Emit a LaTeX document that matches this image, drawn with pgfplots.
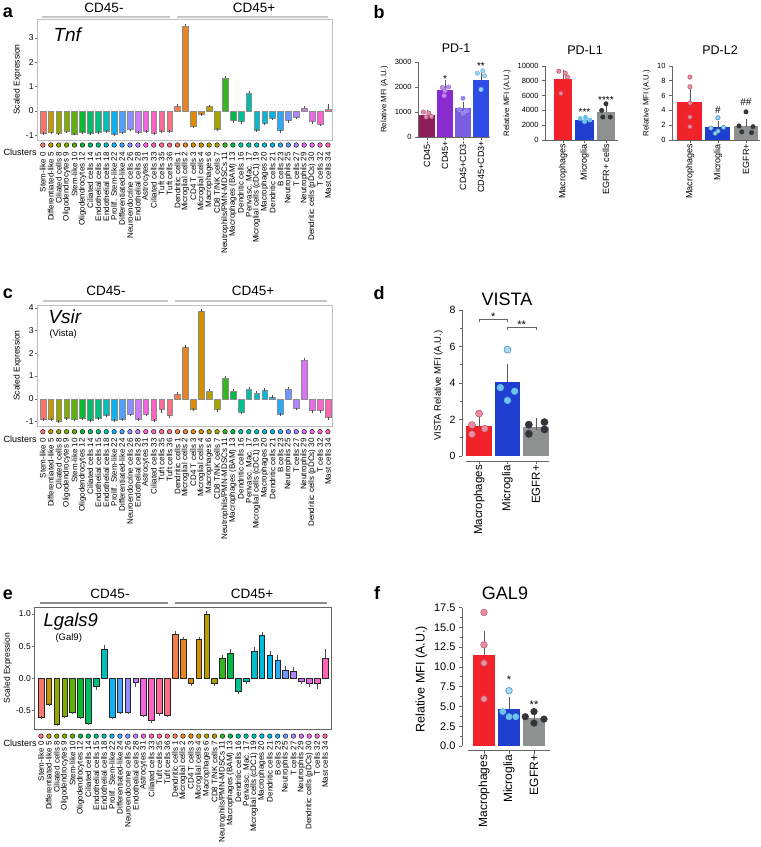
\documentclass[border=0pt]{standalone}
\usepackage{pgfplots}
\pgfplotsset{compat=1.18}
\usepackage{fontspec}
\setmainfont{Liberation Sans}
\newcommand\fs[1]{\fontsize{#1}{#1}\selectfont}

\definecolor{A0}{HTML}{F8766D}
\definecolor{A1}{HTML}{DE8C00}
\definecolor{A2}{HTML}{B79F00}
\definecolor{A3}{HTML}{7CAE00}
\definecolor{A4}{HTML}{00BA38}
\definecolor{A5}{HTML}{00C08B}
\definecolor{A6}{HTML}{00BFC4}
\definecolor{A7}{HTML}{00B4F0}
\definecolor{A8}{HTML}{619CFF}
\definecolor{A9}{HTML}{C77CFF}
\definecolor{A10}{HTML}{F564E3}
\definecolor{A11}{HTML}{FF64B0}
\colorlet{k0}{A0}
\colorlet{k1}{A0!68!A1}
\colorlet{k2}{A0!35!A1}
\colorlet{k3}{A0!3!A1}
\colorlet{k4}{A1!70!A2}
\colorlet{k5}{A1!38!A2}
\colorlet{k6}{A1!5!A2}
\colorlet{k7}{A2!73!A3}
\colorlet{k8}{A2!41!A3}
\colorlet{k9}{A2!8!A3}
\colorlet{k10}{A3!76!A4}
\colorlet{k11}{A3!43!A4}
\colorlet{k12}{A3!11!A4}
\colorlet{k13}{A4!78!A5}
\colorlet{k14}{A4!46!A5}
\colorlet{k15}{A4!14!A5}
\colorlet{k16}{A5!81!A6}
\colorlet{k17}{A5!49!A6}
\colorlet{k18}{A5!16!A6}
\colorlet{k19}{A6!84!A7}
\colorlet{k20}{A6!51!A7}
\colorlet{k21}{A6!19!A7}
\colorlet{k22}{A7!86!A8}
\colorlet{k23}{A7!54!A8}
\colorlet{k24}{A7!22!A8}
\colorlet{k25}{A8!89!A9}
\colorlet{k26}{A8!57!A9}
\colorlet{k27}{A8!24!A9}
\colorlet{k28}{A9!92!A10}
\colorlet{k29}{A9!59!A10}
\colorlet{k30}{A9!27!A10}
\colorlet{k31}{A10!95!A11}
\colorlet{k32}{A10!62!A11}
\colorlet{k33}{A10!30!A11}
\colorlet{k34}{A11!97!A0}
\colorlet{k35}{A11!65!A0}
\colorlet{k36}{A11!32!A0}

\definecolor{macred}{HTML}{F2222A}
\definecolor{micblue}{HTML}{1E3FCF}
\definecolor{egfrgray}{HTML}{8E918F}
\definecolor{macdot}{HTML}{E8909C}
\definecolor{macedge}{HTML}{B8506E}
\definecolor{micdot}{HTML}{6EC3EC}
\definecolor{micedge}{HTML}{3C84B8}
\definecolor{egfrdot}{HTML}{34343A}
\definecolor{pdA}{HTML}{8C1E5A}
\definecolor{pdB}{HTML}{8A2BD0}
\definecolor{pdC}{HTML}{7A5DE0}
\definecolor{pdD}{HTML}{2E4DE6}
\definecolor{pdAd}{HTML}{E58AA5}
\definecolor{pdBd}{HTML}{B392E8}
\definecolor{pdCd}{HTML}{8F86EA}
\definecolor{pdDd}{HTML}{86DDEB}

\pgfplotsset{
  cllabels/.style={xticklabels={{Stem-like 0},{Differentiated-like 5},{Ciliated cells 8},{Oligodendrocytes 9},{Stem-like 10},{Oligodendrocytes 12},{Ciliated cells 14},{Endothelial cells 15},{Endothelial cells 18},{Prolif. Stem-like 22},{Differentiated-like 24},{Neuroendocrine cells 26},{Endothelial cells 28},{Astrocytes 31},{Ciliated cells 33},{Tuft cells 35},{Tuft cells 36},{Dendritic cells 1},{Microglial cells 2},{CD4 T cells 3},{Microglial cells 4},{Macrophages 6},{CD8 T/NK cells 7},{Neutrophils/PMN-MDSCs 11},{Macrophages (BAM) 13},{Dendritic cells 16},{Perivasc. Mac. 17},{Microglial cells (cDC1) 19},{Macrophages 20},{Dendritic cells 21},{B cells 23},{Neutrophils 25},{T cells 27},{Neutrophils 29},{Dendritic cells (pDCs) 30},{T cells 32},{Mast cells 34}}},
  clax/.style={scale only axis, clip=false, anchor=south west,
    xmin=-0.65, xmax=36.6, xtick={0,...,36}, cllabels,
    major x tick style={draw=none}, xtick pos=bottom, ytick pos=left,
    xticklabel style={rotate=90, anchor=east, inner sep=0pt, font=\fs{8}},
    xticklabel shift=9pt,
    axis line style={black!25, line width=0.8pt},
    ytick style={black!55, line width=0.5pt},
    tick align=outside, major tick length=3pt,
    yticklabel style={font=\fs{8.5}, inner sep=1pt},
    ylabel={Scaled Expression}, ylabel style={font=\fs{8.5}},
    /pgf/number format/assume math mode=true},
  cbarline/.style={draw=black!45, line width=0.35pt},
  cbar/.style={ybar, bar width=0.72, bar shift=0pt, cbarline,
    error bars/y explicit, error bars/error mark=-,
    error bars/error bar style={black!70, line width=0.4pt},
    error bars/error mark options={black!70, line width=0.4pt, mark size=1.3pt}},
  cdot/.style={only marks, mark=*, mark size=2.3pt, draw=none},
  gp/.style={scale only axis, clip=false, anchor=south west,
    axis x line*=bottom, axis y line*=left,
    axis line style={black!60, line width=0.7pt},
    every tick/.style={black!60, line width=0.7pt},
    tick align=outside, major tick length=3pt, minor tick length=2pt,
    xticklabel style={rotate=90, anchor=east, inner sep=1pt},
    scaled y ticks=false, xtick={0,1,2},
    /pgf/number format/1000 sep={},
    /pgf/number format/assume math mode=true},
  sbar/.style={ybar, bar shift=0pt, draw=none,
    error bars/y dir=plus, error bars/y explicit, error bars/error mark=-,
    error bars/error bar style={black!65, line width=0.7pt},
    error bars/error mark options={black!65, line width=0.7pt, mark size=#1}},
  sbar/.default=4pt,
  pdot/.style={only marks, mark=*, line width=0.5pt},
}

\newcommand\B[4]{%
  \ifdim #3pt<0pt
    \addplot[cbar, fill=k#2, error bars/y dir=minus] coordinates {(#1,#3) +- (0,#4)};
  \else
    \addplot[cbar, fill=k#2, error bars/y dir=plus] coordinates {(#1,#3) +- (0,#4)};
  \fi
  \addplot[cdot, fill=k#2] coordinates {(#1,\doty)};%
}

\begin{document}
\begin{tikzpicture}
\useasboundingbox (0,0) rectangle (761pt,-847pt);

% ================= panel a =================
\node[font=\bfseries\fs{18}] at (8pt,-13pt) {a};
\draw[black!22, line width=2pt] (42pt,-17pt) -- (170pt,-17pt);
\draw[black!22, line width=2pt] (177pt,-17pt) -- (328pt,-17pt);
\node[font=\fs{13.5}] at (104pt,-8pt) {CD45-};
\node[font=\fs{13.5}] at (254pt,-8pt) {CD45+};
\def\doty{-1.405}
\begin{axis}[clax, at={(37.7pt,-140pt)}, width=295pt, height=121pt,
  ymin=-1.2, ymax=3.77, ytick={-1,0,1,2,3}]
\B{0}{0}{-0.91}{0.02}
\B{1}{5}{-0.89}{0.02}
\B{2}{8}{-0.93}{0.02}
\B{3}{9}{-0.85}{0.02}
\B{4}{10}{-0.94}{0.02}
\B{5}{12}{-0.88}{0.02}
\B{6}{14}{-0.91}{0.02}
\B{7}{15}{-0.88}{0.02}
\B{8}{18}{-0.83}{0.02}
\B{9}{22}{-0.95}{0.02}
\B{10}{24}{-0.89}{0.02}
\B{11}{26}{-0.77}{0.02}
\B{12}{28}{-0.88}{0.02}
\B{13}{31}{-0.82}{0.02}
\B{14}{33}{-0.91}{0.02}
\B{15}{35}{-0.84}{0.02}
\B{16}{36}{-0.84}{0.02}
\B{17}{1}{0.18}{0.03}
\B{18}{2}{3.48}{0.05}
\B{19}{3}{-0.64}{0.03}
\B{20}{4}{-0.14}{0.02}
\B{21}{6}{0.17}{0.03}
\B{22}{7}{-0.75}{0.03}
\B{23}{11}{1.34}{0.05}
\B{24}{13}{-0.40}{0.03}
\B{25}{16}{-0.44}{0.03}
\B{26}{17}{0.72}{0.05}
\B{27}{19}{-0.78}{0.03}
\B{28}{20}{-0.51}{0.03}
\B{29}{21}{-0.30}{0.03}
\B{30}{23}{-0.81}{0.03}
\B{31}{25}{-0.40}{0.03}
\B{32}{27}{-0.26}{0.03}
\B{33}{29}{0.11}{0.04}
\B{34}{30}{-0.44}{0.04}
\B{35}{32}{-0.53}{0.05}
\B{36}{34}{0.07}{0.14}
\end{axis}
\node[font=\itshape\fs{19}, anchor=west] at (50pt,-35pt) {Tnf};
\node[font=\fs{9}, anchor=west] at (0pt,-152pt) {Clusters};

% ================= panel c =================
\node[font=\bfseries\fs{18}] at (8pt,-294pt) {c};
\draw[black!22, line width=2pt] (43pt,-301pt) -- (168pt,-301pt);
\draw[black!22, line width=2pt] (175pt,-301pt) -- (327pt,-301pt);
\node[font=\fs{13.5}] at (106pt,-291pt) {CD45-};
\node[font=\fs{13.5}] at (253pt,-291pt) {CD45+};
\def\doty{-1.45}
\begin{axis}[clax, at={(37.7pt,-426pt)}, width=295pt, height=121pt,
  ymin=-1.2, ymax=4.13, ytick={-1,0,1,2,3,4}]
\B{0}{0}{-0.89}{0.02}
\B{1}{5}{-0.89}{0.02}
\B{2}{8}{-0.97}{0.02}
\B{3}{9}{-0.85}{0.02}
\B{4}{10}{-0.92}{0.02}
\B{5}{12}{-0.85}{0.02}
\B{6}{14}{-0.95}{0.02}
\B{7}{15}{-0.85}{0.02}
\B{8}{18}{-0.73}{0.02}
\B{9}{22}{-0.95}{0.02}
\B{10}{24}{-0.89}{0.02}
\B{11}{26}{-0.70}{0.02}
\B{12}{28}{-0.89}{0.02}
\B{13}{31}{-0.70}{0.02}
\B{14}{33}{-0.95}{0.02}
\B{15}{35}{-0.47}{0.12}
\B{16}{36}{-0.73}{0.07}
\B{17}{1}{0.20}{0.03}
\B{18}{2}{2.27}{0.04}
\B{19}{3}{-0.44}{0.03}
\B{20}{4}{3.84}{0.04}
\B{21}{6}{0.35}{0.03}
\B{22}{7}{-0.48}{0.03}
\B{23}{11}{0.91}{0.04}
\B{24}{13}{0.35}{0.03}
\B{25}{16}{-0.60}{0.03}
\B{26}{17}{0.44}{0.04}
\B{27}{19}{0.25}{0.04}
\B{28}{20}{0.37}{0.03}
\B{29}{21}{0.06}{0.03}
\B{30}{23}{-0.66}{0.03}
\B{31}{25}{0.44}{0.04}
\B{32}{27}{-0.42}{0.03}
\B{33}{29}{1.71}{0.05}
\B{34}{30}{-0.51}{0.04}
\B{35}{32}{-0.51}{0.05}
\B{36}{34}{-0.82}{0.04}
\end{axis}
\node[font=\itshape\fs{19}, anchor=west] at (45pt,-317pt) {Vsir};
\node[font=\fs{9.5}, anchor=west] at (46pt,-334pt) {(Vista)};
\node[font=\fs{9}, anchor=west] at (0pt,-439pt) {Clusters};

% ================= panel e =================
\node[font=\bfseries\fs{18}] at (8pt,-595pt) {e};
\draw[black!45, line width=2pt] (40pt,-603pt) -- (168pt,-603pt);
\draw[black!45, line width=2pt] (175pt,-603pt) -- (327pt,-603pt);
\node[font=\fs{13.5}] at (110pt,-594pt) {CD45-};
\node[font=\fs{13.5}] at (252pt,-594pt) {CD45+};
\def\doty{-0.9}
\pgfplotsset{cbarline/.style={draw=black!85, line width=0.5pt}}
\begin{axis}[clax, at={(35pt,-729pt)}, width=296pt, height=122pt,
  xmin=-0.76, xmax=36.76,
  axis line style={black!60, line width=1pt},
  ymin=-0.79, ymax=1.11, ytick={-0.5,0,0.5,1},
  yticklabel style={/pgf/number format/.cd, fixed, fixed zerofill, precision=1}]
\B{0}{0}{-0.60}{0.01}
\B{1}{5}{-0.40}{0.01}
\B{2}{8}{-0.71}{0.01}
\B{3}{9}{-0.59}{0.01}
\B{4}{10}{-0.53}{0.01}
\B{5}{12}{-0.61}{0.01}
\B{6}{14}{-0.70}{0.01}
\B{7}{15}{-0.13}{0.03}
\B{8}{18}{0.45}{0.05}
\B{9}{22}{-0.61}{0.01}
\B{10}{24}{-0.53}{0.01}
\B{11}{26}{-0.53}{0.01}
\B{12}{28}{-0.06}{0.05}
\B{13}{31}{-0.58}{0.01}
\B{14}{33}{-0.65}{0.02}
\B{15}{35}{-0.55}{0.01}
\B{16}{36}{-0.58}{0.01}
\B{17}{1}{0.69}{0.02}
\B{18}{2}{0.61}{0.01}
\B{19}{3}{-0.08}{0.02}
\B{20}{4}{0.61}{0.02}
\B{21}{6}{1.00}{0.02}
\B{22}{7}{-0.07}{0.03}
\B{23}{11}{0.31}{0.04}
\B{24}{13}{0.39}{0.04}
\B{25}{16}{-0.20}{0.02}
\B{26}{17}{-0.04}{0.03}
\B{27}{19}{0.42}{0.04}
\B{28}{20}{0.67}{0.03}
\B{29}{21}{0.36}{0.04}
\B{30}{23}{0.28}{0.06}
\B{31}{25}{0.13}{0.04}
\B{32}{27}{0.11}{0.05}
\B{33}{29}{-0.04}{0.03}
\B{34}{30}{-0.07}{0.05}
\B{35}{32}{-0.07}{0.08}
\B{36}{34}{0.31}{0.12}
\end{axis}
\node[font=\itshape\fs{18.5}, anchor=west] at (40pt,-622pt) {Lgals9};
\node[font=\fs{9.5}, anchor=west] at (52pt,-638pt) {(Gal9)};
\node[font=\fs{9}, anchor=west] at (0pt,-743pt) {Clusters};

% ================= panel b =================
\node[font=\bfseries\fs{18}] at (379pt,-12pt) {b};
\node[font=\fs{12.5}] at (456pt,-48pt) {PD-1};
\node[font=\fs{12.5}] at (585pt,-50pt) {PD-L1};
\node[font=\fs{12.5}] at (720pt,-50pt) {PD-L2};
\begin{axis}[gp, at={(418pt,-137pt)}, width=72pt, height=75pt,
  xmin=-0.5, xmax=3.5, ymin=0, ymax=3000, ytick={0,1000,2000,3000},
  xtick={0,1,2,3}, xticklabels={CD45-,CD45+,CD45+CD3-,CD45+CD3+},
  xticklabel style={font=\fs{9}}, yticklabel style={font=\fs{7.5}},
  ylabel={Relative MFI (A.U.)}, ylabel style={font=\fs{7.8}}]
\addplot[sbar=3pt, bar width=0.88, fill=pdA] coordinates {(0,900) +- (0,60)};
\addplot[sbar=3pt, bar width=0.88, fill=pdB] coordinates {(1,1870) +- (0,280)};
\addplot[sbar=3pt, bar width=0.88, fill=pdC] coordinates {(2,1160) +- (0,120)};
\addplot[sbar=3pt, bar width=0.88, fill=pdD] coordinates {(3,2300) +- (0,200)};
\addplot[pdot, mark size=2.2pt, mark options={fill=pdAd, draw=pdA!70}] coordinates {(-0.2,1000) (0.1,950) (0.25,820) (-0.05,800)};
\addplot[pdot, mark size=2.2pt, mark options={fill=pdBd, draw=pdB!70}] coordinates {(0.85,1980) (1.2,2000) (1,1850) (0.95,1650)};
\addplot[pdot, mark size=2.2pt, mark options={fill=pdCd, draw=pdC!70}] coordinates {(2,1550) (1.8,1100) (2.2,1050) (2,950)};
\addplot[pdot, mark size=2.2pt, mark options={fill=pdDd, draw=pdD!50}] coordinates {(3.1,2650) (2.8,2550) (3.2,2450) (3,1900)};
\node[anchor=base, font=\fs{10}] at (axis cs:1,2200) {*};
\node[anchor=base, font=\fs{10}] at (axis cs:3,2720) {**};
\end{axis}

\begin{axis}[gp, at={(545pt,-140pt)}, width=73pt, height=74pt,
  xmin=-0.84, xmax=2.56, ymin=0, ymax=10000, ytick={0,2000,4000,6000,8000,10000},
  xticklabels={Macrophages,Microglia,EGFR+ cells},
  xticklabel style={font=\fs{9}}, yticklabel style={font=\fs{7.5}},
  ylabel={Relative MFI (A.U.)}, ylabel style={font=\fs{7.8}}]
\addplot[sbar=3.5pt, bar width=0.88, fill=macred] coordinates {(0,8300) +- (0,700)};
\addplot[sbar=3.5pt, bar width=0.88, fill=micblue] coordinates {(1,2650) +- (0,200)};
\addplot[sbar=3.5pt, bar width=0.88, fill=egfrgray] coordinates {(2,3800) +- (0,450)};
\addplot[pdot, mark size=2.2pt, mark options={fill=macdot, draw=macedge}] coordinates {(-0.2,9300) (0.1,9050) (0.2,8500) (-0.1,6300)};
\addplot[pdot, mark size=2.2pt, mark options={fill=micdot, draw=micdot}] coordinates {(0.8,2900) (1.05,3050) (1.25,2700) (1,2500)};
\addplot[pdot, mark size=2.2pt, mark options={fill=egfrdot, draw=egfrdot}] coordinates {(2,4900) (1.8,4000) (2.2,3100) (1.85,3100)};
\node[anchor=base, font=\fs{10}] at (axis cs:1,3250) {***};
\node[anchor=base, font=\fs{10}] at (axis cs:2,5000) {****};
\end{axis}

\begin{axis}[gp, at={(672pt,-140pt)}, width=88pt, height=74pt,
  xmin=-0.64, xmax=2.5, ymin=0, ymax=10, ytick={0,2,4,6,8,10},
  xticklabels={Macrophages,Microglia,EGFR+},
  xticklabel style={font=\fs{9}}, yticklabel style={font=\fs{7.5}},
  ylabel={Relative MFI (A.U.)}, ylabel style={font=\fs{7.8}}]
\addplot[sbar=4pt, bar width=0.89, fill=macred] coordinates {(0,5.1) +- (0,1.3)};
\addplot[sbar=4pt, bar width=0.89, fill=micblue] coordinates {(1,1.7) +- (0,0.35)};
\addplot[sbar=4pt, bar width=0.89, fill=egfrgray] coordinates {(2,1.9) +- (0,0.45)};
\addplot[pdot, mark size=2.2pt, mark options={fill=macdot, draw=macedge}] coordinates {(0,8.5) (0,7.2) (0,5.0) (0,3.1) (0,1.8)};
\addplot[pdot, mark size=2.2pt, mark options={fill=micdot!70!white, draw=micedge}] coordinates {(1,3.0) (0.75,1.6) (1.2,1.7) (1,1.2) (0.9,0.9)};
\addplot[pdot, mark size=2.2pt, mark options={fill=egfrdot, draw=egfrdot}] coordinates {(2,3.8) (1.75,1.9) (2.25,1.8) (1.85,1.1) (2.2,1.0)};
\node[anchor=base, font=\fs{10}] at (axis cs:1,3.6) {\#};
\node[anchor=base, font=\fs{10}] at (axis cs:2,4.6) {\#\#};
\end{axis}

% ================= panel d =================
\node[font=\bfseries\fs{18}] at (379pt,-293pt) {d};
\node[font=\fs{18}] at (507pt,-299pt) {VISTA};
\begin{axis}[gp, at={(462pt,-461pt)}, width=87pt, height=151pt,
  xmin=-0.6, xmax=2.46, ymin=-0.27, ymax=8, ytick={0,2,4,6,8}, minor ytick={1,3,5,7},
  xticklabels={Macrophages,Microglia,EGFR+},
  x axis line style={shorten <=4pt}, y axis line style={shorten <=5pt},
  xticklabel style={font=\fs{11.5}}, yticklabel style={font=\fs{10.5}},
  ylabel={VISTA Relative MFI (A.U.)}, ylabel style={font=\fs{9.5}}]
\addplot[sbar=6pt, bar width=0.91, fill=macred] coordinates {(0,1.66) +- (0,0.25)};
\addplot[sbar=6.5pt, bar width=0.91, fill=micblue] coordinates {(1,4.04) +- (0,0.63)};
\addplot[sbar=6pt, bar width=0.91, fill=egfrgray] coordinates {(2,1.57) +- (0,0.17)};
\addplot[pdot, mark size=3.5pt, mark options={fill=macdot, draw=macedge}] coordinates {(0,2.33) (-0.25,1.70) (0.2,1.50) (-0.25,1.20)};
\addplot[pdot, mark size=3.5pt, mark options={fill=micdot!60!white, draw=micedge}] coordinates {(1,5.83)};
\addplot[pdot, mark size=3.3pt, mark options={fill=micdot, draw=micdot}] coordinates {(0.75,3.75) (1.25,3.55) (1,3.05)};
\addplot[pdot, mark size=3.6pt, mark options={fill=egfrdot, draw=egfrdot}] coordinates {(1.75,1.72) (2.3,1.86) (1.75,1.22) (2.3,1.46)};
\draw[black!60, line width=0.7pt] (axis cs:0,7.34) -- (axis cs:0,7.5) -- (axis cs:1,7.5) -- (axis cs:1,7.34);
\draw[black!60, line width=0.7pt] (axis cs:1,6.9) -- (axis cs:1,7.07) -- (axis cs:2,7.07) -- (axis cs:2,6.9);
\node[anchor=base, font=\fs{11}] at (axis cs:0.5,7.45) {*};
\node[anchor=base, font=\fs{11}] at (axis cs:1.5,7.0) {**};
\end{axis}

% ================= panel f =================
\node[font=\bfseries\fs{18}] at (377pt,-593pt) {f};
\node[font=\fs{18}] at (505pt,-593pt) {GAL9};
\begin{axis}[gp, at={(462pt,-750.7pt)}, width=88pt, height=143pt,
  xmin=-0.88, xmax=2.64, ymin=-0.6, ymax=17.5,
  ytick={0,2.5,5,7.5,10,12.5,15,17.5}, minor ytick={1.25,3.75,6.25,8.75,11.25,13.75,16.25},
  yticklabel style={font=\fs{11}, /pgf/number format/.cd, fixed, fixed zerofill, precision=1},
  xticklabels={Macrophages,Microglia,EGFR+},
  x axis line style={shorten <=6pt}, y axis line style={shorten <=4.7pt},
  xticklabel style={font=\fs{12}},
  ylabel={Relative MFI (A.U.)}, ylabel style={font=\fs{12.5}}]
\addplot[sbar=7pt, bar width=0.88, fill=macred] coordinates {(0,11.5) +- (0,2.2)};
\addplot[sbar=6pt, bar width=0.88, fill=micblue] coordinates {(1,4.7) +- (0,0.8)};
\addplot[sbar=5pt, bar width=0.88, fill=egfrgray] coordinates {(2,3.6) +- (0,0.4)};
\addplot[pdot, mark size=3.3pt, mark options={fill=macdot, draw=macedge}] coordinates {(0,16.9) (0,12.8) (0,10.5) (0,5.95)};
\addplot[pdot, mark size=3.3pt, mark options={fill=micdot!60!white, draw=micedge}] coordinates {(1,7.0)};
\addplot[pdot, mark size=3.1pt, mark options={fill=micdot, draw=micdot}] coordinates {(0.75,4.35) (1,3.7) (1.27,3.7)};
\addplot[pdot, mark size=3.3pt, mark options={fill=egfrdot, draw=egfrdot}] coordinates {(2,4.35) (1.65,3.7) (2.4,3.4) (2,2.9)};
\node[anchor=base, font=\fs{11}] at (axis cs:1,7.85) {*};
\node[anchor=base, font=\fs{11}] at (axis cs:2,4.8) {**};
\end{axis}
\end{tikzpicture}
\end{document}
